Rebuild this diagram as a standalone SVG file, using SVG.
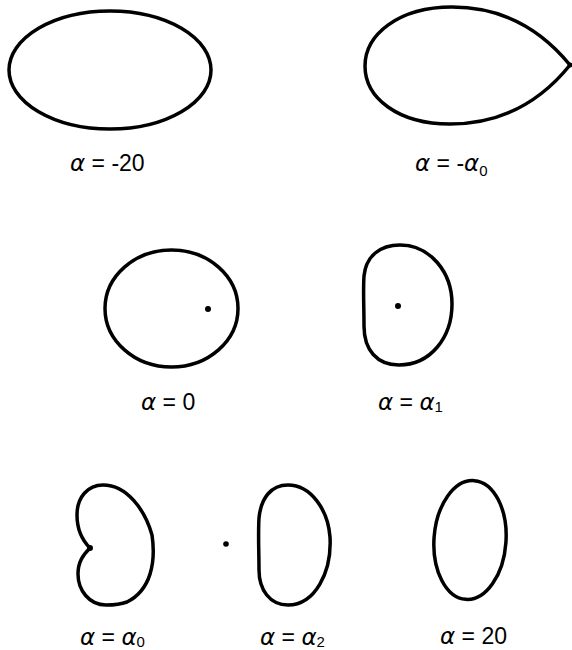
<svg xmlns="http://www.w3.org/2000/svg" width="572" height="650" viewBox="0 0 572 650">
<style>
.c{fill:none;stroke:#000;stroke-width:3.5;stroke-linejoin:round}
.d{fill:#000}
.t{font-family:"Liberation Sans",Arial,sans-serif;font-size:23px;fill:#000}
.a{font-family:"DejaVu Sans","Liberation Sans",sans-serif;font-style:italic}
.s{font-size:15px}
</style>
<rect width="572" height="650" fill="#fff"/>
<g id="curve-m20">
<ellipse class="c" cx="110" cy="70" rx="101" ry="59"/>
<text class="t" x="70" y="171"><tspan class="a">α</tspan> = -20</text>
</g>
<g id="curve-malpha0">
<path class="c" d="M570,65 C548,38 512,7 452,7 C398,7 365,35 365,66 C365,98 398,124 450,124 C508,124 545,96 570,65 Z"/>
<circle class="d" cx="570" cy="65" r="2.5"/>
<text class="t" x="415" y="171"><tspan class="a">α</tspan> = -<tspan class="a">α</tspan><tspan class="s" dy="5">0</tspan></text>
</g>
<g id="curve-0">
<ellipse class="c" cx="171.5" cy="308.5" rx="66.5" ry="58.5"/>
<circle class="d" cx="208" cy="309" r="3"/>
<text class="t" x="141" y="410"><tspan class="a">α</tspan> = 0</text>
</g>
<g id="curve-alpha1">
<path class="c" d="M400,245 C430,245 452,272 452,304 C452,338 430,365 399,365 C377,365 364,350 364,326 C364,305 363,292 364,276 C366,256 380,245 400,245 Z"/>
<circle class="d" cx="398" cy="306" r="3"/>
<text class="t" x="378" y="410"><tspan class="a">α</tspan> = <tspan class="a">α</tspan><tspan class="s" dy="2">1</tspan></text>
</g>
<g id="curve-alpha0">
<path class="c" d="M90,548 C82,540 77,528 77,515 C77,497 88,485 103,485 C127,485 145,510 152,535 C156,562 151,590 127,602 C119,605 112,605 106,605 C89,605 78,590 78,574 C78,562 83,555 90,548 Z"/>
<circle class="d" cx="90" cy="548" r="3"/>
<text class="t" x="80" y="645"><tspan class="a">α</tspan> = <tspan class="a">α</tspan><tspan class="s" dy="2">0</tspan></text>
</g>
<g id="curve-alpha2">
<circle class="d" cx="226" cy="544" r="2.8"/>
<path class="c" d="M288,485 C311,485 328,510 330,537 C332,572 315,605 288,605 C270,605 259,590 259,570 C259,552 258,535 259,518 C261,498 271,485 288,485 Z"/>
<text class="t" x="260" y="645"><tspan class="a">α</tspan> = <tspan class="a">α</tspan><tspan class="s" dy="2">2</tspan></text>
</g>
<g id="curve-20">
<ellipse class="c" cx="470" cy="540" rx="36" ry="59.5" transform="rotate(4 470 540)"/>
<text class="t" x="440" y="644"><tspan class="a">α</tspan> = 20</text>
</g>
<g id="connectors"/>
</svg>
